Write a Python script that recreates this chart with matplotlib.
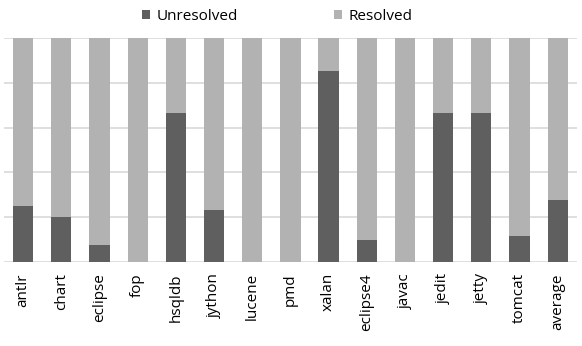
import matplotlib
matplotlib.use("Agg")
import matplotlib.pyplot as plt
import numpy as np

categories = ["antlr", "chart", "eclipse", "fop", "hsqldb", "jython", "lucene", "pmd",
              "xalan", "eclipse4", "javac", "jedit", "jetty", "tomcat", "average"]
unresolved = [25.0, 20.0, 7.4, 0.0, 66.7, 23.3, 0.0, 0.0, 85.4, 9.8, 0.0, 66.7, 66.7, 11.8, 27.8]
resolved = [100.0 - u for u in unresolved]

plt.rcParams['font.family'] = ['Open Sans', 'DejaVu Sans']

fig = plt.figure(figsize=(5.82, 3.46), dpi=100)
ax = fig.add_axes([0.007, 0.243, 0.984, 0.647])

x = np.arange(len(categories))
dark = "#5f5f5f"
light = "#b2b2b2"
w = 0.53
ax.bar(x, unresolved, w, color=dark, label="Unresolved", zorder=3)
ax.bar(x, resolved, w, bottom=unresolved, color=light, label="Resolved", zorder=3)

ax.set_ylim(0, 100)
ax.set_xlim(-0.5, len(categories) - 0.5)
ax.set_yticks([0, 20, 40, 60, 80, 100])
ax.yaxis.grid(True, color="#d9d9d9", linewidth=1.2, zorder=0)
ax.set_yticklabels([])
ax.tick_params(axis='y', length=0)
ax.set_xticks(x)
ax.set_xticklabels(categories, rotation=90, fontsize=11, color="#000000")
ax.tick_params(axis='x', length=0, pad=8)
for s in ax.spines.values():
    s.set_visible(False)

fig.legend(loc='center', bbox_to_anchor=(0.476, 0.953), ncol=2, frameon=False,
           fontsize=11, handlelength=0.55, handleheight=0.55, handletextpad=0.4,
           columnspacing=6.3)

fig.savefig("out.png", dpi=100)
